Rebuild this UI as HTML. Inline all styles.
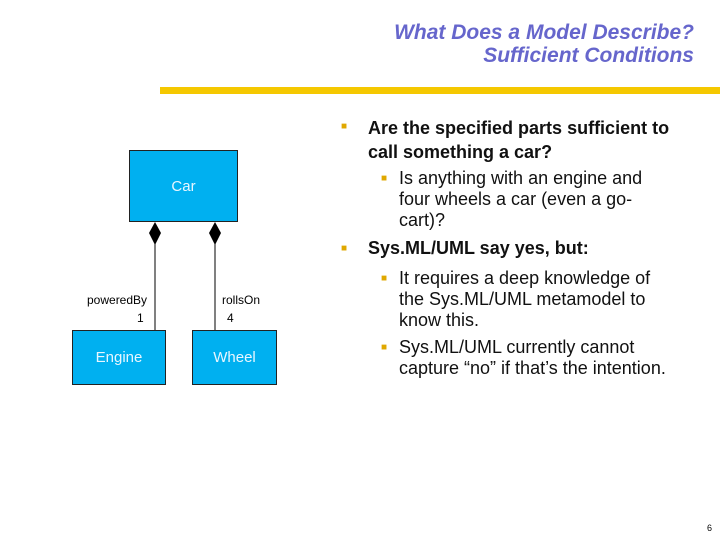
<!DOCTYPE html>
<html><head><style>
body{margin:0;width:720px;height:540px;background:#fff;position:relative;overflow:hidden;font-family:"Liberation Sans",Arial,sans-serif}
.t{position:absolute;right:26px;text-align:right;color:#6666cc;font-style:italic;font-weight:bold;font-size:21px;line-height:23px;top:21px}
.bar{position:absolute;left:160px;top:87px;width:560px;height:7px;background:#f5c800}
.box{position:absolute;background:#00b0f0;border:1px solid #222;color:#e8f6ff;font-size:15px;display:flex;align-items:center;justify-content:center;box-sizing:border-box}
.s{position:absolute;font-size:12px;color:#000}
.tx{position:absolute;font-size:18px;color:#111;line-height:21px}
.b{position:absolute;color:#e0a800;font-size:10px}
</style></head><body>
<div class="t">What Does a Model Describe?<br>Sufficient Conditions</div>
<div class="bar"></div>
<div class="box" style="left:129px;top:150px;width:109px;height:72px;padding-right:0"><span style="position:relative;left:0">Car</span></div>
<div class="box" style="left:72px;top:330px;width:94px;height:55px">Engine</div>
<div class="box" style="left:192px;top:330px;width:85px;height:55px">Wheel</div>
<svg style="position:absolute;left:0;top:0" width="720" height="540">
<line x1="155" y1="240" x2="155" y2="330" stroke="#000"/>
<line x1="215" y1="240" x2="215" y2="330" stroke="#000"/>
<polygon points="155,222 161,233 155,245 149,233" fill="#000"/>
<polygon points="215,222 221,233 215,245 209,233" fill="#000"/>
</svg>
<div class="s" style="left:87px;top:293px">poweredBy</div>
<div class="s" style="left:137px;top:311px">1</div>
<div class="s" style="left:222px;top:293px">rollsOn</div>
<div class="s" style="left:227px;top:311px">4</div>
<div class="b" style="left:341px;top:121px">■</div>
<div class="tx" style="left:368px;top:116px;font-weight:bold;line-height:24px">Are the specified parts sufficient to<br>call something a car?</div>
<div class="b" style="left:381px;top:173px">■</div>
<div class="tx" style="left:399px;top:168px">Is anything with an engine and<br>four wheels a car (even a go-<br>cart)?</div>
<div class="b" style="left:341px;top:243px">■</div>
<div class="tx" style="left:368px;top:238px;font-weight:bold">Sys.ML/UML say yes, but:</div>
<div class="b" style="left:381px;top:273px">■</div>
<div class="tx" style="left:399px;top:268px">It requires a deep knowledge of<br>the Sys.ML/UML metamodel to<br>know this.</div>
<div class="b" style="left:381px;top:342px">■</div>
<div class="tx" style="left:399px;top:337px">Sys.ML/UML currently cannot<br>capture “no” if that’s the intention.</div>
<div class="s" style="left:707px;top:523px;font-size:9px">6</div>
</body></html>
